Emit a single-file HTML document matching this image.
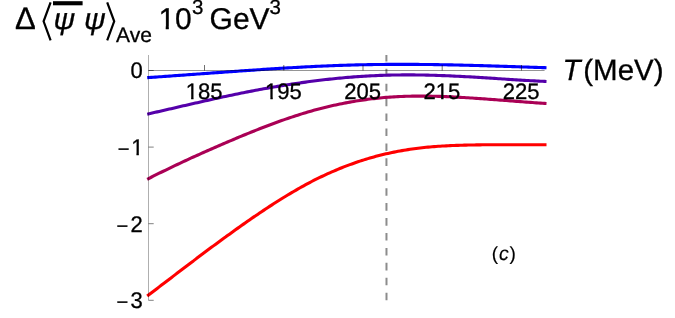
<!DOCTYPE html>
<html><head><meta charset="utf-8"><style>
html,body{margin:0;padding:0;background:#fff;}
svg{display:block;}
text{font-family:"Liberation Sans",sans-serif;fill:#000;stroke:#000;stroke-width:0.3px;text-rendering:geometricPrecision;}
</style></head><body>
<div style="will-change:transform;width:675px;height:318px"><svg width="675" height="318" viewBox="0 0 675 318">
<rect width="675" height="318" fill="#fff"/>
<defs><clipPath id="k0"><rect x="-200" y="-26.88" width="400" height="24.88"/><rect x="-200.00" y="-3.00" width="181.88" height="11.20"/><rect x="-13.25" y="-3.00" width="2.38" height="11.20"/><rect x="-6.22" y="-3.00" width="206.22" height="11.20"/></clipPath><clipPath id="k1"><rect x="-200" y="-26.88" width="400" height="24.88"/><rect x="-200.00" y="-3.00" width="181.88" height="11.20"/><rect x="-13.25" y="-3.00" width="2.38" height="11.20"/><rect x="-6.22" y="-3.00" width="206.22" height="11.20"/></clipPath><clipPath id="k2"><rect x="-200" y="-26.88" width="400" height="24.88"/><rect x="-200.00" y="-3.00" width="194.34" height="11.20"/><rect x="-0.80" y="-3.00" width="2.38" height="11.20"/><rect x="6.24" y="-3.00" width="193.76" height="11.20"/></clipPath><clipPath id="k3"><rect x="-200" y="-27.12" width="400" height="25.12"/><rect x="-200.00" y="-3.00" width="188.01" height="11.30"/><rect x="-7.09" y="-3.00" width="2.40" height="11.30"/><rect x="0.00" y="-3.00" width="200.00" height="11.30"/></clipPath><clipPath id="k4"><rect x="-200" y="-36.00" width="400" height="33.00"/><rect x="-200.00" y="-4.00" width="201.10" height="15.00"/><rect x="7.34" y="-4.00" width="3.05" height="15.00"/><rect x="16.36" y="-4.00" width="183.64" height="15.00"/></clipPath><clipPath id="pc"><rect x="50" y="13.1" width="60" height="30"/></clipPath></defs>
<line x1="386.4" y1="55" x2="386.5" y2="300.5" stroke="#8c8c8c" stroke-width="2" stroke-dasharray="7.6 7.33" stroke-dashoffset="1.2"/>
<path d="M147.2,296.09 L149.2,294.55 L151.2,293.02 L153.2,291.49 L155.2,289.95 L157.2,288.42 L159.2,286.88 L161.2,285.35 L163.3,283.81 L165.3,282.28 L167.3,280.74 L169.3,279.21 L171.3,277.68 L173.3,276.14 L175.3,274.61 L177.3,273.08 L179.3,271.55 L181.3,270.02 L183.3,268.49 L185.3,266.97 L187.3,265.45 L189.3,263.92 L191.3,262.40 L193.4,260.89 L195.4,259.37 L197.4,257.86 L199.4,256.35 L201.4,254.84 L203.4,253.34 L205.4,251.84 L207.4,250.34 L209.4,248.85 L211.4,247.36 L213.4,245.87 L215.4,244.39 L217.4,242.91 L219.4,241.43 L221.4,239.96 L223.4,238.50 L225.5,237.04 L227.5,235.58 L229.5,234.13 L231.5,232.68 L233.5,231.24 L235.5,229.81 L237.5,228.38 L239.5,226.95 L241.5,225.53 L243.5,224.12 L245.5,222.71 L247.5,221.31 L249.5,219.92 L251.5,218.53 L253.5,217.15 L255.6,215.78 L257.6,214.41 L259.6,213.05 L261.6,211.70 L263.6,210.36 L265.6,209.03 L267.6,207.70 L269.6,206.39 L271.6,205.08 L273.6,203.79 L275.6,202.50 L277.6,201.23 L279.6,199.97 L281.6,198.72 L283.6,197.48 L285.7,196.25 L287.7,195.03 L289.7,193.83 L291.7,192.64 L293.7,191.46 L295.7,190.29 L297.7,189.14 L299.7,188.01 L301.7,186.89 L303.7,185.78 L305.7,184.69 L307.7,183.61 L309.7,182.55 L311.7,181.50 L313.7,180.47 L315.7,179.46 L317.8,178.46 L319.8,177.48 L321.8,176.51 L323.8,175.56 L325.8,174.63 L327.8,173.71 L329.8,172.81 L331.8,171.92 L333.8,171.05 L335.8,170.20 L337.8,169.36 L339.8,168.53 L341.8,167.73 L343.8,166.93 L345.8,166.16 L347.9,165.40 L349.9,164.65 L351.9,163.92 L353.9,163.21 L355.9,162.51 L357.9,161.82 L359.9,161.15 L361.9,160.50 L363.9,159.86 L365.9,159.24 L367.9,158.64 L369.9,158.05 L371.9,157.47 L373.9,156.91 L375.9,156.36 L378.0,155.83 L380.0,155.32 L382.0,154.82 L384.0,154.33 L386.0,153.86 L388.0,153.40 L390.0,152.96 L392.0,152.53 L394.0,152.12 L396.0,151.72 L398.0,151.33 L400.0,150.96 L402.0,150.60 L404.0,150.25 L406.0,149.92 L408.0,149.60 L410.1,149.30 L412.1,149.00 L414.1,148.72 L416.1,148.46 L418.1,148.20 L420.1,147.96 L422.1,147.74 L424.1,147.52 L426.1,147.32 L428.1,147.12 L430.1,146.94 L432.1,146.77 L434.1,146.61 L436.1,146.46 L438.1,146.32 L440.2,146.19 L442.2,146.06 L444.2,145.95 L446.2,145.84 L448.2,145.74 L450.2,145.65 L452.2,145.56 L454.2,145.48 L456.2,145.41 L458.2,145.34 L460.2,145.28 L462.2,145.22 L464.2,145.17 L466.2,145.12 L468.2,145.07 L470.3,145.03 L472.3,144.99 L474.3,144.94 L476.3,144.90 L478.3,144.86 L480.3,144.83 L482.3,144.80 L484.3,144.77 L486.3,144.75 L488.3,144.73 L490.3,144.72 L492.3,144.71 L494.3,144.71 L496.3,144.70 L498.3,144.70 L500.3,144.70 L502.4,144.70 L504.4,144.70 L506.4,144.70 L508.4,144.70 L510.4,144.70 L512.4,144.70 L514.4,144.70 L516.4,144.70 L518.4,144.70 L520.4,144.70 L522.4,144.70 L524.4,144.70 L526.4,144.70 L528.4,144.70 L530.4,144.70 L532.5,144.70 L534.5,144.70 L536.5,144.70 L538.5,144.70 L540.5,144.70 L542.5,144.70 L544.5,144.70 L546.5,144.70" fill="none" stroke="#ff0000" stroke-width="3.1" stroke-linecap="butt" stroke-linejoin="round"/>
<path d="M147.2,179.28 L149.2,178.26 L151.2,177.25 L153.2,176.23 L155.2,175.23 L157.2,174.23 L159.2,173.23 L161.2,172.24 L163.3,171.26 L165.3,170.28 L167.3,169.30 L169.3,168.33 L171.3,167.36 L173.3,166.40 L175.3,165.45 L177.3,164.50 L179.3,163.55 L181.3,162.61 L183.3,161.67 L185.3,160.73 L187.3,159.80 L189.3,158.88 L191.3,157.96 L193.4,157.04 L195.4,156.13 L197.4,155.22 L199.4,154.31 L201.4,153.41 L203.4,152.52 L205.4,151.62 L207.4,150.73 L209.4,149.85 L211.4,148.96 L213.4,148.08 L215.4,147.21 L217.4,146.33 L219.4,145.47 L221.4,144.60 L223.4,143.74 L225.5,142.88 L227.5,142.02 L229.5,141.17 L231.5,140.32 L233.5,139.47 L235.5,138.62 L237.5,137.78 L239.5,136.94 L241.5,136.11 L243.5,135.28 L245.5,134.46 L247.5,133.64 L249.5,132.82 L251.5,132.01 L253.5,131.20 L255.6,130.40 L257.6,129.60 L259.6,128.81 L261.6,128.03 L263.6,127.25 L265.6,126.48 L267.6,125.72 L269.6,124.96 L271.6,124.21 L273.6,123.46 L275.6,122.72 L277.6,121.99 L279.6,121.27 L281.6,120.56 L283.6,119.85 L285.7,119.15 L287.7,118.46 L289.7,117.78 L291.7,117.11 L293.7,116.45 L295.7,115.79 L297.7,115.15 L299.7,114.51 L301.7,113.89 L303.7,113.28 L305.7,112.67 L307.7,112.08 L309.7,111.49 L311.7,110.92 L313.7,110.36 L315.7,109.81 L317.8,109.27 L319.8,108.74 L321.8,108.22 L323.8,107.72 L325.8,107.22 L327.8,106.74 L329.8,106.26 L331.8,105.80 L333.8,105.35 L335.8,104.91 L337.8,104.47 L339.8,104.06 L341.8,103.65 L343.8,103.25 L345.8,102.86 L347.9,102.49 L349.9,102.12 L351.9,101.77 L353.9,101.42 L355.9,101.09 L357.9,100.77 L359.9,100.46 L361.9,100.16 L363.9,99.87 L365.9,99.59 L367.9,99.33 L369.9,99.07 L371.9,98.82 L373.9,98.59 L375.9,98.37 L378.0,98.15 L380.0,97.95 L382.0,97.76 L384.0,97.58 L386.0,97.41 L388.0,97.25 L390.0,97.11 L392.0,96.97 L394.0,96.84 L396.0,96.73 L398.0,96.62 L400.0,96.53 L402.0,96.44 L404.0,96.37 L406.0,96.30 L408.0,96.24 L410.1,96.19 L412.1,96.16 L414.1,96.13 L416.1,96.10 L418.1,96.09 L420.1,96.08 L422.1,96.09 L424.1,96.09 L426.1,96.11 L428.1,96.14 L430.1,96.17 L432.1,96.20 L434.1,96.25 L436.1,96.30 L438.1,96.36 L440.2,96.42 L442.2,96.49 L444.2,96.56 L446.2,96.64 L448.2,96.72 L450.2,96.81 L452.2,96.91 L454.2,97.01 L456.2,97.11 L458.2,97.22 L460.2,97.33 L462.2,97.44 L464.2,97.56 L466.2,97.68 L468.2,97.81 L470.3,97.93 L472.3,98.06 L474.3,98.19 L476.3,98.33 L478.3,98.47 L480.3,98.61 L482.3,98.75 L484.3,98.89 L486.3,99.03 L488.3,99.18 L490.3,99.33 L492.3,99.48 L494.3,99.63 L496.3,99.78 L498.3,99.93 L500.3,100.09 L502.4,100.24 L504.4,100.40 L506.4,100.55 L508.4,100.71 L510.4,100.86 L512.4,101.02 L514.4,101.17 L516.4,101.33 L518.4,101.48 L520.4,101.64 L522.4,101.79 L524.4,101.95 L526.4,102.10 L528.4,102.25 L530.4,102.40 L532.5,102.55 L534.5,102.70 L536.5,102.85 L538.5,102.99 L540.5,103.13 L542.5,103.28 L544.5,103.42 L546.5,103.55" fill="none" stroke="#aa0055" stroke-width="3.1" stroke-linecap="butt" stroke-linejoin="round"/>
<path d="M147.2,114.16 L149.2,113.71 L151.2,113.25 L153.2,112.80 L155.2,112.34 L157.2,111.88 L159.2,111.42 L161.2,110.96 L163.3,110.49 L165.3,110.03 L167.3,109.57 L169.3,109.11 L171.3,108.64 L173.3,108.18 L175.3,107.72 L177.3,107.25 L179.3,106.79 L181.3,106.33 L183.3,105.86 L185.3,105.40 L187.3,104.94 L189.3,104.48 L191.3,104.02 L193.4,103.56 L195.4,103.10 L197.4,102.64 L199.4,102.19 L201.4,101.73 L203.4,101.28 L205.4,100.83 L207.4,100.38 L209.4,99.93 L211.4,99.48 L213.4,99.04 L215.4,98.59 L217.4,98.15 L219.4,97.72 L221.4,97.28 L223.4,96.85 L225.5,96.42 L227.5,95.99 L229.5,95.57 L231.5,95.15 L233.5,94.73 L235.5,94.31 L237.5,93.90 L239.5,93.49 L241.5,93.09 L243.5,92.68 L245.5,92.28 L247.5,91.89 L249.5,91.50 L251.5,91.11 L253.5,90.72 L255.6,90.34 L257.6,89.96 L259.6,89.59 L261.6,89.22 L263.6,88.85 L265.6,88.49 L267.6,88.13 L269.6,87.77 L271.6,87.42 L273.6,87.07 L275.6,86.73 L277.6,86.39 L279.6,86.05 L281.6,85.72 L283.6,85.39 L285.7,85.07 L287.7,84.75 L289.7,84.44 L291.7,84.13 L293.7,83.82 L295.7,83.52 L297.7,83.23 L299.7,82.93 L301.7,82.65 L303.7,82.37 L305.7,82.09 L307.7,81.81 L309.7,81.55 L311.7,81.28 L313.7,81.02 L315.7,80.77 L317.8,80.52 L319.8,80.28 L321.8,80.04 L323.8,79.81 L325.8,79.58 L327.8,79.35 L329.8,79.14 L331.8,78.92 L333.8,78.71 L335.8,78.51 L337.8,78.31 L339.8,78.12 L341.8,77.93 L343.8,77.75 L345.8,77.58 L347.9,77.41 L349.9,77.24 L351.9,77.08 L353.9,76.92 L355.9,76.78 L357.9,76.63 L359.9,76.49 L361.9,76.36 L363.9,76.23 L365.9,76.11 L367.9,76.00 L369.9,75.89 L371.9,75.78 L373.9,75.68 L375.9,75.59 L378.0,75.50 L380.0,75.42 L382.0,75.35 L384.0,75.28 L386.0,75.21 L388.0,75.15 L390.0,75.10 L392.0,75.06 L394.0,75.02 L396.0,74.98 L398.0,74.95 L400.0,74.93 L402.0,74.91 L404.0,74.90 L406.0,74.89 L408.0,74.89 L410.1,74.90 L412.1,74.91 L414.1,74.92 L416.1,74.94 L418.1,74.96 L420.1,74.99 L422.1,75.02 L424.1,75.06 L426.1,75.10 L428.1,75.15 L430.1,75.20 L432.1,75.25 L434.1,75.31 L436.1,75.37 L438.1,75.43 L440.2,75.50 L442.2,75.58 L444.2,75.65 L446.2,75.73 L448.2,75.82 L450.2,75.90 L452.2,75.99 L454.2,76.09 L456.2,76.18 L458.2,76.28 L460.2,76.38 L462.2,76.48 L464.2,76.59 L466.2,76.70 L468.2,76.81 L470.3,76.92 L472.3,77.04 L474.3,77.16 L476.3,77.28 L478.3,77.40 L480.3,77.52 L482.3,77.65 L484.3,77.77 L486.3,77.90 L488.3,78.03 L490.3,78.16 L492.3,78.29 L494.3,78.42 L496.3,78.55 L498.3,78.68 L500.3,78.81 L502.4,78.94 L504.4,79.07 L506.4,79.20 L508.4,79.33 L510.4,79.46 L512.4,79.59 L514.4,79.71 L516.4,79.84 L518.4,79.97 L520.4,80.09 L522.4,80.21 L524.4,80.33 L526.4,80.45 L528.4,80.57 L530.4,80.68 L532.5,80.80 L534.5,80.91 L536.5,81.02 L538.5,81.12 L540.5,81.22 L542.5,81.32 L544.5,81.42 L546.5,81.51" fill="none" stroke="#5500aa" stroke-width="3.1" stroke-linecap="butt" stroke-linejoin="round"/>
<path d="M147.2,77.67 L149.2,77.53 L151.2,77.39 L153.2,77.25 L155.2,77.11 L157.2,76.97 L159.2,76.82 L161.2,76.68 L163.3,76.54 L165.3,76.39 L167.3,76.25 L169.3,76.11 L171.3,75.96 L173.3,75.82 L175.3,75.67 L177.3,75.53 L179.3,75.38 L181.3,75.24 L183.3,75.09 L185.3,74.95 L187.3,74.80 L189.3,74.65 L191.3,74.51 L193.4,74.36 L195.4,74.22 L197.4,74.07 L199.4,73.93 L201.4,73.78 L203.4,73.63 L205.4,73.49 L207.4,73.34 L209.4,73.20 L211.4,73.05 L213.4,72.91 L215.4,72.76 L217.4,72.62 L219.4,72.48 L221.4,72.33 L223.4,72.19 L225.5,72.04 L227.5,71.90 L229.5,71.76 L231.5,71.62 L233.5,71.48 L235.5,71.33 L237.5,71.19 L239.5,71.05 L241.5,70.91 L243.5,70.77 L245.5,70.64 L247.5,70.50 L249.5,70.36 L251.5,70.22 L253.5,70.09 L255.6,69.95 L257.6,69.82 L259.6,69.68 L261.6,69.55 L263.6,69.42 L265.6,69.29 L267.6,69.16 L269.6,69.03 L271.6,68.90 L273.6,68.77 L275.6,68.64 L277.6,68.52 L279.6,68.39 L281.6,68.27 L283.6,68.15 L285.7,68.03 L287.7,67.91 L289.7,67.79 L291.7,67.68 L293.7,67.56 L295.7,67.45 L297.7,67.34 L299.7,67.23 L301.7,67.12 L303.7,67.01 L305.7,66.90 L307.7,66.80 L309.7,66.70 L311.7,66.60 L313.7,66.50 L315.7,66.40 L317.8,66.31 L319.8,66.21 L321.8,66.12 L323.8,66.03 L325.8,65.95 L327.8,65.86 L329.8,65.78 L331.8,65.70 L333.8,65.62 L335.8,65.55 L337.8,65.47 L339.8,65.40 L341.8,65.33 L343.8,65.26 L345.8,65.20 L347.9,65.14 L349.9,65.08 L351.9,65.02 L353.9,64.97 L355.9,64.92 L357.9,64.87 L359.9,64.82 L361.9,64.77 L363.9,64.73 L365.9,64.69 L367.9,64.66 L369.9,64.62 L371.9,64.59 L373.9,64.56 L375.9,64.53 L378.0,64.50 L380.0,64.48 L382.0,64.46 L384.0,64.44 L386.0,64.42 L388.0,64.41 L390.0,64.39 L392.0,64.38 L394.0,64.38 L396.0,64.37 L398.0,64.36 L400.0,64.36 L402.0,64.36 L404.0,64.36 L406.0,64.36 L408.0,64.37 L410.1,64.38 L412.1,64.38 L414.1,64.40 L416.1,64.41 L418.1,64.42 L420.1,64.44 L422.1,64.45 L424.1,64.47 L426.1,64.49 L428.1,64.52 L430.1,64.54 L432.1,64.57 L434.1,64.59 L436.1,64.62 L438.1,64.65 L440.2,64.69 L442.2,64.72 L444.2,64.75 L446.2,64.79 L448.2,64.83 L450.2,64.87 L452.2,64.91 L454.2,64.95 L456.2,64.99 L458.2,65.04 L460.2,65.08 L462.2,65.13 L464.2,65.18 L466.2,65.23 L468.2,65.28 L470.3,65.33 L472.3,65.38 L474.3,65.43 L476.3,65.49 L478.3,65.54 L480.3,65.60 L482.3,65.66 L484.3,65.71 L486.3,65.77 L488.3,65.83 L490.3,65.89 L492.3,65.95 L494.3,66.02 L496.3,66.08 L498.3,66.14 L500.3,66.20 L502.4,66.27 L504.4,66.33 L506.4,66.40 L508.4,66.46 L510.4,66.53 L512.4,66.59 L514.4,66.66 L516.4,66.73 L518.4,66.79 L520.4,66.86 L522.4,66.93 L524.4,66.99 L526.4,67.06 L528.4,67.13 L530.4,67.20 L532.5,67.26 L534.5,67.33 L536.5,67.40 L538.5,67.47 L540.5,67.53 L542.5,67.60 L544.5,67.67 L546.5,67.74" fill="none" stroke="#0000ff" stroke-width="3.1" stroke-linecap="butt" stroke-linejoin="round"/>

<g stroke="#000" fill="none">
<line x1="148.5" y1="55" x2="148.5" y2="300.30" stroke-width="0.32"/>
<line x1="148.5" y1="70.5" x2="544.6" y2="70.5" stroke-width="0.42"/>
<g stroke-width="0.56"><line x1="204.5" y1="70.5" x2="204.5" y2="65.0"/><line x1="283.8" y1="70.5" x2="283.8" y2="65.0"/><line x1="363.0" y1="70.5" x2="363.0" y2="65.0"/><line x1="442.2" y1="70.5" x2="442.2" y2="65.0"/><line x1="521.5" y1="70.5" x2="521.5" y2="65.0"/></g>
<g stroke-width="0.5"><line x1="148.5" y1="70.50" x2="153.7" y2="70.50"/><line x1="148.5" y1="147.10" x2="153.7" y2="147.10"/><line x1="148.5" y1="223.70" x2="153.7" y2="223.70"/><line x1="148.5" y1="300.30" x2="153.7" y2="300.30"/></g>
</g>
<text transform="translate(204.20,99.00) scale(0.985,1)" font-size="22.4" text-anchor="middle" clip-path="url(#k0)">185</text>
<text transform="translate(283.45,99.00) scale(0.985,1)" font-size="22.4" text-anchor="middle" clip-path="url(#k1)">195</text>
<text transform="translate(362.70,99.00) scale(0.985,1)" font-size="22.4" text-anchor="middle">205</text>
<text transform="translate(441.95,99.00) scale(0.985,1)" font-size="22.4" text-anchor="middle" clip-path="url(#k2)">215</text>
<text transform="translate(521.20,99.00) scale(0.985,1)" font-size="22.4" text-anchor="middle">225</text>
<text transform="translate(142.80,78.00) scale(0.975,1)" font-size="22.6" text-anchor="end">0</text>
<text transform="translate(143.40,155.00) scale(0.975,1)" font-size="22.6" text-anchor="end" clip-path="url(#k3)"><tspan dy="1.4" font-size="20.6">−</tspan><tspan dx="1.8" dy="-1.4">1</tspan></text>
<text transform="translate(142.80,232.00) scale(0.975,1)" font-size="22.6" text-anchor="end"><tspan dy="1.4" font-size="20.6">−</tspan><tspan dx="2.4" dy="-1.4">2</tspan></text>
<text transform="translate(142.80,308.00) scale(0.975,1)" font-size="22.6" text-anchor="end"><tspan dy="1.4" font-size="20.6">−</tspan><tspan dx="2.4" dy="-1.4">3</tspan></text>

<text transform="translate(14.90,29.00) scale(1.0,1)" font-size="31.1" text-anchor="start">Δ</text>

<path d="M50.6,2.4 L43.6,21.3 L50.6,40.3" fill="none" stroke="#000" stroke-width="2.2"/>
<path d="M107.2,2.4 L114.2,21.3 L107.2,40.3" fill="none" stroke="#000" stroke-width="2.2"/>
<g clip-path="url(#pc)">
<text transform="translate(53.50,29.00) scale(1.0,1)" font-size="30" text-anchor="start" font-style="italic">ψ</text>

<text transform="translate(84.00,29.00) scale(1.0,1)" font-size="30" text-anchor="start" font-style="italic">ψ</text>

</g>
<rect x="53" y="1.2" width="29.6" height="4.1" fill="#000"/>
<text transform="translate(116.00,42.00) scale(1.0,1)" font-size="21" text-anchor="start">Ave</text>

<text transform="translate(158.40,29.00) scale(1.0,1)" font-size="30" text-anchor="start" clip-path="url(#k4)">10</text>

<text transform="translate(192.00,14.00) scale(1.0,1)" font-size="20.5" text-anchor="start">3</text>

<text transform="translate(209.55,29.00) scale(1.0,1)" font-size="30" text-anchor="start">GeV</text>

<text transform="translate(269.40,14.00) scale(1.0,1)" font-size="20.5" text-anchor="start">3</text>

<text transform="translate(562.40,80.00) scale(1.0,1)" font-size="29.5" text-anchor="start" font-style="italic">T</text>

<text transform="translate(583.25,80.00) scale(1.0,1)" font-size="29.5" text-anchor="start">(MeV)</text>

<text transform="translate(491.80,260.00) scale(1.0,1)" font-size="19.0" text-anchor="start" style="stroke-width:0.15px">(</text>

<text transform="translate(498.90,260.00) scale(1.0,1)" font-size="19.5" text-anchor="start" font-style="italic" style="stroke-width:0.15px">c</text>

<text transform="translate(509.50,260.00) scale(1.0,1)" font-size="19.0" text-anchor="start" style="stroke-width:0.15px">)</text>

</svg></div>
</body></html>
